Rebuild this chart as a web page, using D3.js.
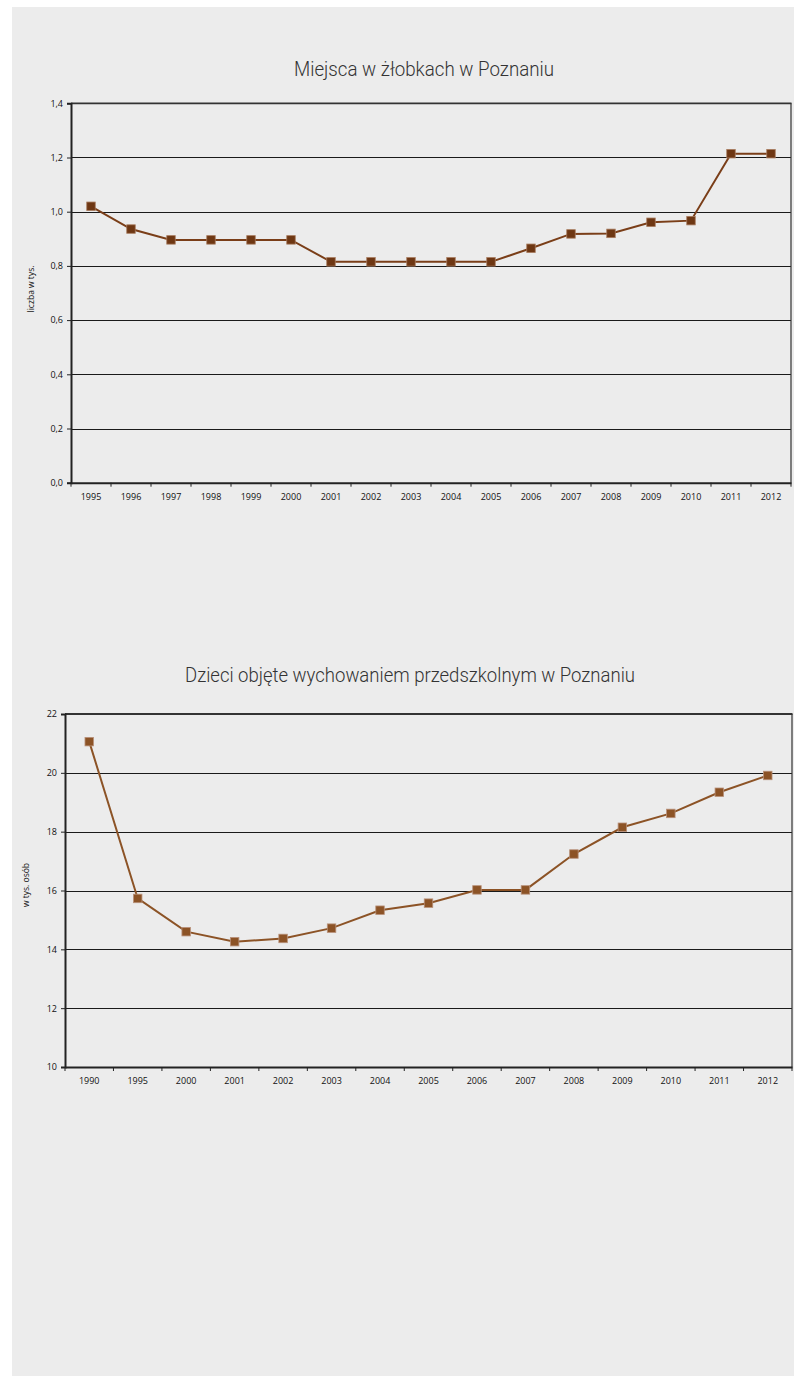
<!DOCTYPE html>
<html><head><meta charset="utf-8">
<script src="https://cdn.jsdelivr.net/npm/d3@7"></script>
<style>
html,body{margin:0;padding:0;background:#fff;}
svg{display:block;}
</style></head>
<body>
<svg id="c" width="794" height="1376"></svg>
<script>
// ---- Chart 1 data ----
const years1 = ["1995","1996","1997","1998","1999","2000","2001","2002","2003","2004","2005","2006","2007","2008","2009","2010","2011","2012"];
const values1 = [1.02,0.936,0.896,0.896,0.896,0.896,0.815,0.815,0.815,0.815,0.815,0.865,0.918,0.920,0.961,0.967,1.214,1.214];
const yTicks1 = [0,0.2,0.4,0.6,0.8,1.0,1.2,1.4];
const title1 = "Miejsca w żłobkach w Poznaniu";
const yLabel1 = "liczba w tys.";

// ---- Chart 2 data ----
const years2 = ["1990","1995","2000","2001","2002","2003","2004","2005","2006","2007","2008","2009","2010","2011","2012"];
const values2 = [21.06,15.73,14.60,14.26,14.37,14.72,15.33,15.57,16.02,16.02,17.24,18.15,18.62,19.34,19.91];
const yTicks2 = [10,12,14,16,18,20,22];
const title2 = "Dzieci objęte wychowaniem przedszkolnym w Poznaniu";
const yLabel2 = "w tys. osób";

const svg = d3.select("#c");
svg.append("rect").attr("x",12).attr("y",7).attr("width",782).attr("height",1369).attr("fill","#ececec");

const tickFont = "'Open Sans', 'Noto Sans', sans-serif";

function drawChart(cfg){
  const g = svg.append("g");
  const x = d3.scaleBand().domain(cfg.cats).range([cfg.x0, cfg.x1]).padding(0);
  const y = d3.scaleLinear().domain(cfg.yDomain).range([cfg.y1, cfg.y0]);

  // title
  g.append("text").attr("x", cfg.titleX).attr("y", cfg.titleY)
    .attr("text-anchor","middle")
    .attr("font-family","Roboto, 'DejaVu Sans', sans-serif")
    .attr("font-weight",300).attr("font-size",19.5).attr("fill","#333")
    .attr("textLength", cfg.titleW).attr("lengthAdjust","spacingAndGlyphs")
    .text(cfg.title);

  // gridlines
  g.append("g").selectAll("line").data(cfg.yTicks.filter(d=>d!==cfg.yDomain[0] && d!==cfg.yDomain[1]))
    .join("line")
    .attr("x1", cfg.x0).attr("x2", cfg.x1)
    .attr("y1", d=>Math.round(y(d))+0.5).attr("y2", d=>Math.round(y(d))+0.5)
    .attr("stroke","#1a1a1a").attr("stroke-width",1.1);

  // top border & right border
  g.append("line").attr("x1",cfg.x0).attr("x2",cfg.x1+0.5)
    .attr("y1",y(cfg.yDomain[1])).attr("y2",y(cfg.yDomain[1]))
    .attr("stroke","#333").attr("stroke-width",1.8);
  g.append("line").attr("x1",cfg.x1).attr("x2",cfg.x1)
    .attr("y1",y(cfg.yDomain[1])).attr("y2",y(cfg.yDomain[0]))
    .attr("stroke","#333").attr("stroke-width",1.2);

  // y axis
  const ya = d3.axisLeft(y).tickValues(cfg.yTicks).tickSize(4).tickPadding(4)
    .tickFormat(cfg.fmt);
  const yg = g.append("g").attr("transform",`translate(${cfg.x0},0)`).call(ya);
  yg.select(".domain").attr("stroke","#222").attr("stroke-width",2);
  yg.selectAll(".tick line").attr("stroke","#222");
  yg.selectAll("text").attr("font-family",tickFont).attr("font-size",9).attr("fill","#111");

  // x axis
  const xa = d3.axisBottom(x).tickSize(0).tickPadding(11);
  const xg = g.append("g").attr("transform",`translate(0,${cfg.y1})`).call(xa);
  xg.select(".domain").attr("stroke","#222").attr("stroke-width",2);
  xg.selectAll("text").attr("font-family",tickFont).attr("font-size",9).attr("fill","#111");
  // boundary ticks
  const bounds = cfg.cats.map(c=>x(c)).concat([cfg.x1]);
  g.append("g").selectAll("line").data(bounds).join("line")
    .attr("x1",d=>d).attr("x2",d=>d).attr("y1",cfg.y1).attr("y2",cfg.y1+4)
    .attr("stroke","#222").attr("stroke-width",1);

  // y label
  g.append("text")
    .attr("transform",`translate(${cfg.ylabX},${cfg.ylabY}) rotate(-90)`)
    .attr("text-anchor","middle")
    .attr("font-family",tickFont).attr("font-size",8.5).attr("fill","#111")
    .text(cfg.yLabel);

  // line
  const cx = d => x(d) + x.bandwidth()/2;
  const line = d3.line().x((d,i)=>cx(cfg.cats[i])).y(d=>y(d));
  g.append("path").datum(cfg.values).attr("d",line)
    .attr("fill","none").attr("stroke",cfg.lineColor).attr("stroke-width",2);
  const s = 8.5;
  g.append("g").selectAll("rect").data(cfg.values).join("rect")
    .attr("x",(d,i)=>cx(cfg.cats[i])-s/2).attr("y",d=>y(d)-s/2)
    .attr("width",s).attr("height",s)
    .attr("fill",cfg.markColor).attr("stroke",cfg.markEdge).attr("stroke-width",0.8);
}

drawChart({
  cats: years1, values: values1, yTicks: yTicks1, yDomain:[0,1.4],
  x0: 71, x1: 791, y0: 103.3, y1: 482.7,
  title: title1, titleX: 424, titleY: 76, titleW: 260,
  yLabel: yLabel1, ylabX: 34, ylabY: 289,
  fmt: d => d.toFixed(1).replace(".", ","),
  lineColor: "#7a3e18", markColor: "#6e3713", markEdge: "#a87c5f"
});

drawChart({
  cats: years2, values: values2, yTicks: yTicks2, yDomain:[10,22],
  x0: 65, x1: 792, y0: 714, y1: 1067,
  title: title2, titleX: 410, titleY: 682, titleW: 450,
  yLabel: yLabel2, ylabX: 29, ylabY: 885,
  fmt: d => String(d),
  lineColor: "#8c5326", markColor: "#8c5326", markEdge: "#b8917a"
});
</script>
</body></html>
